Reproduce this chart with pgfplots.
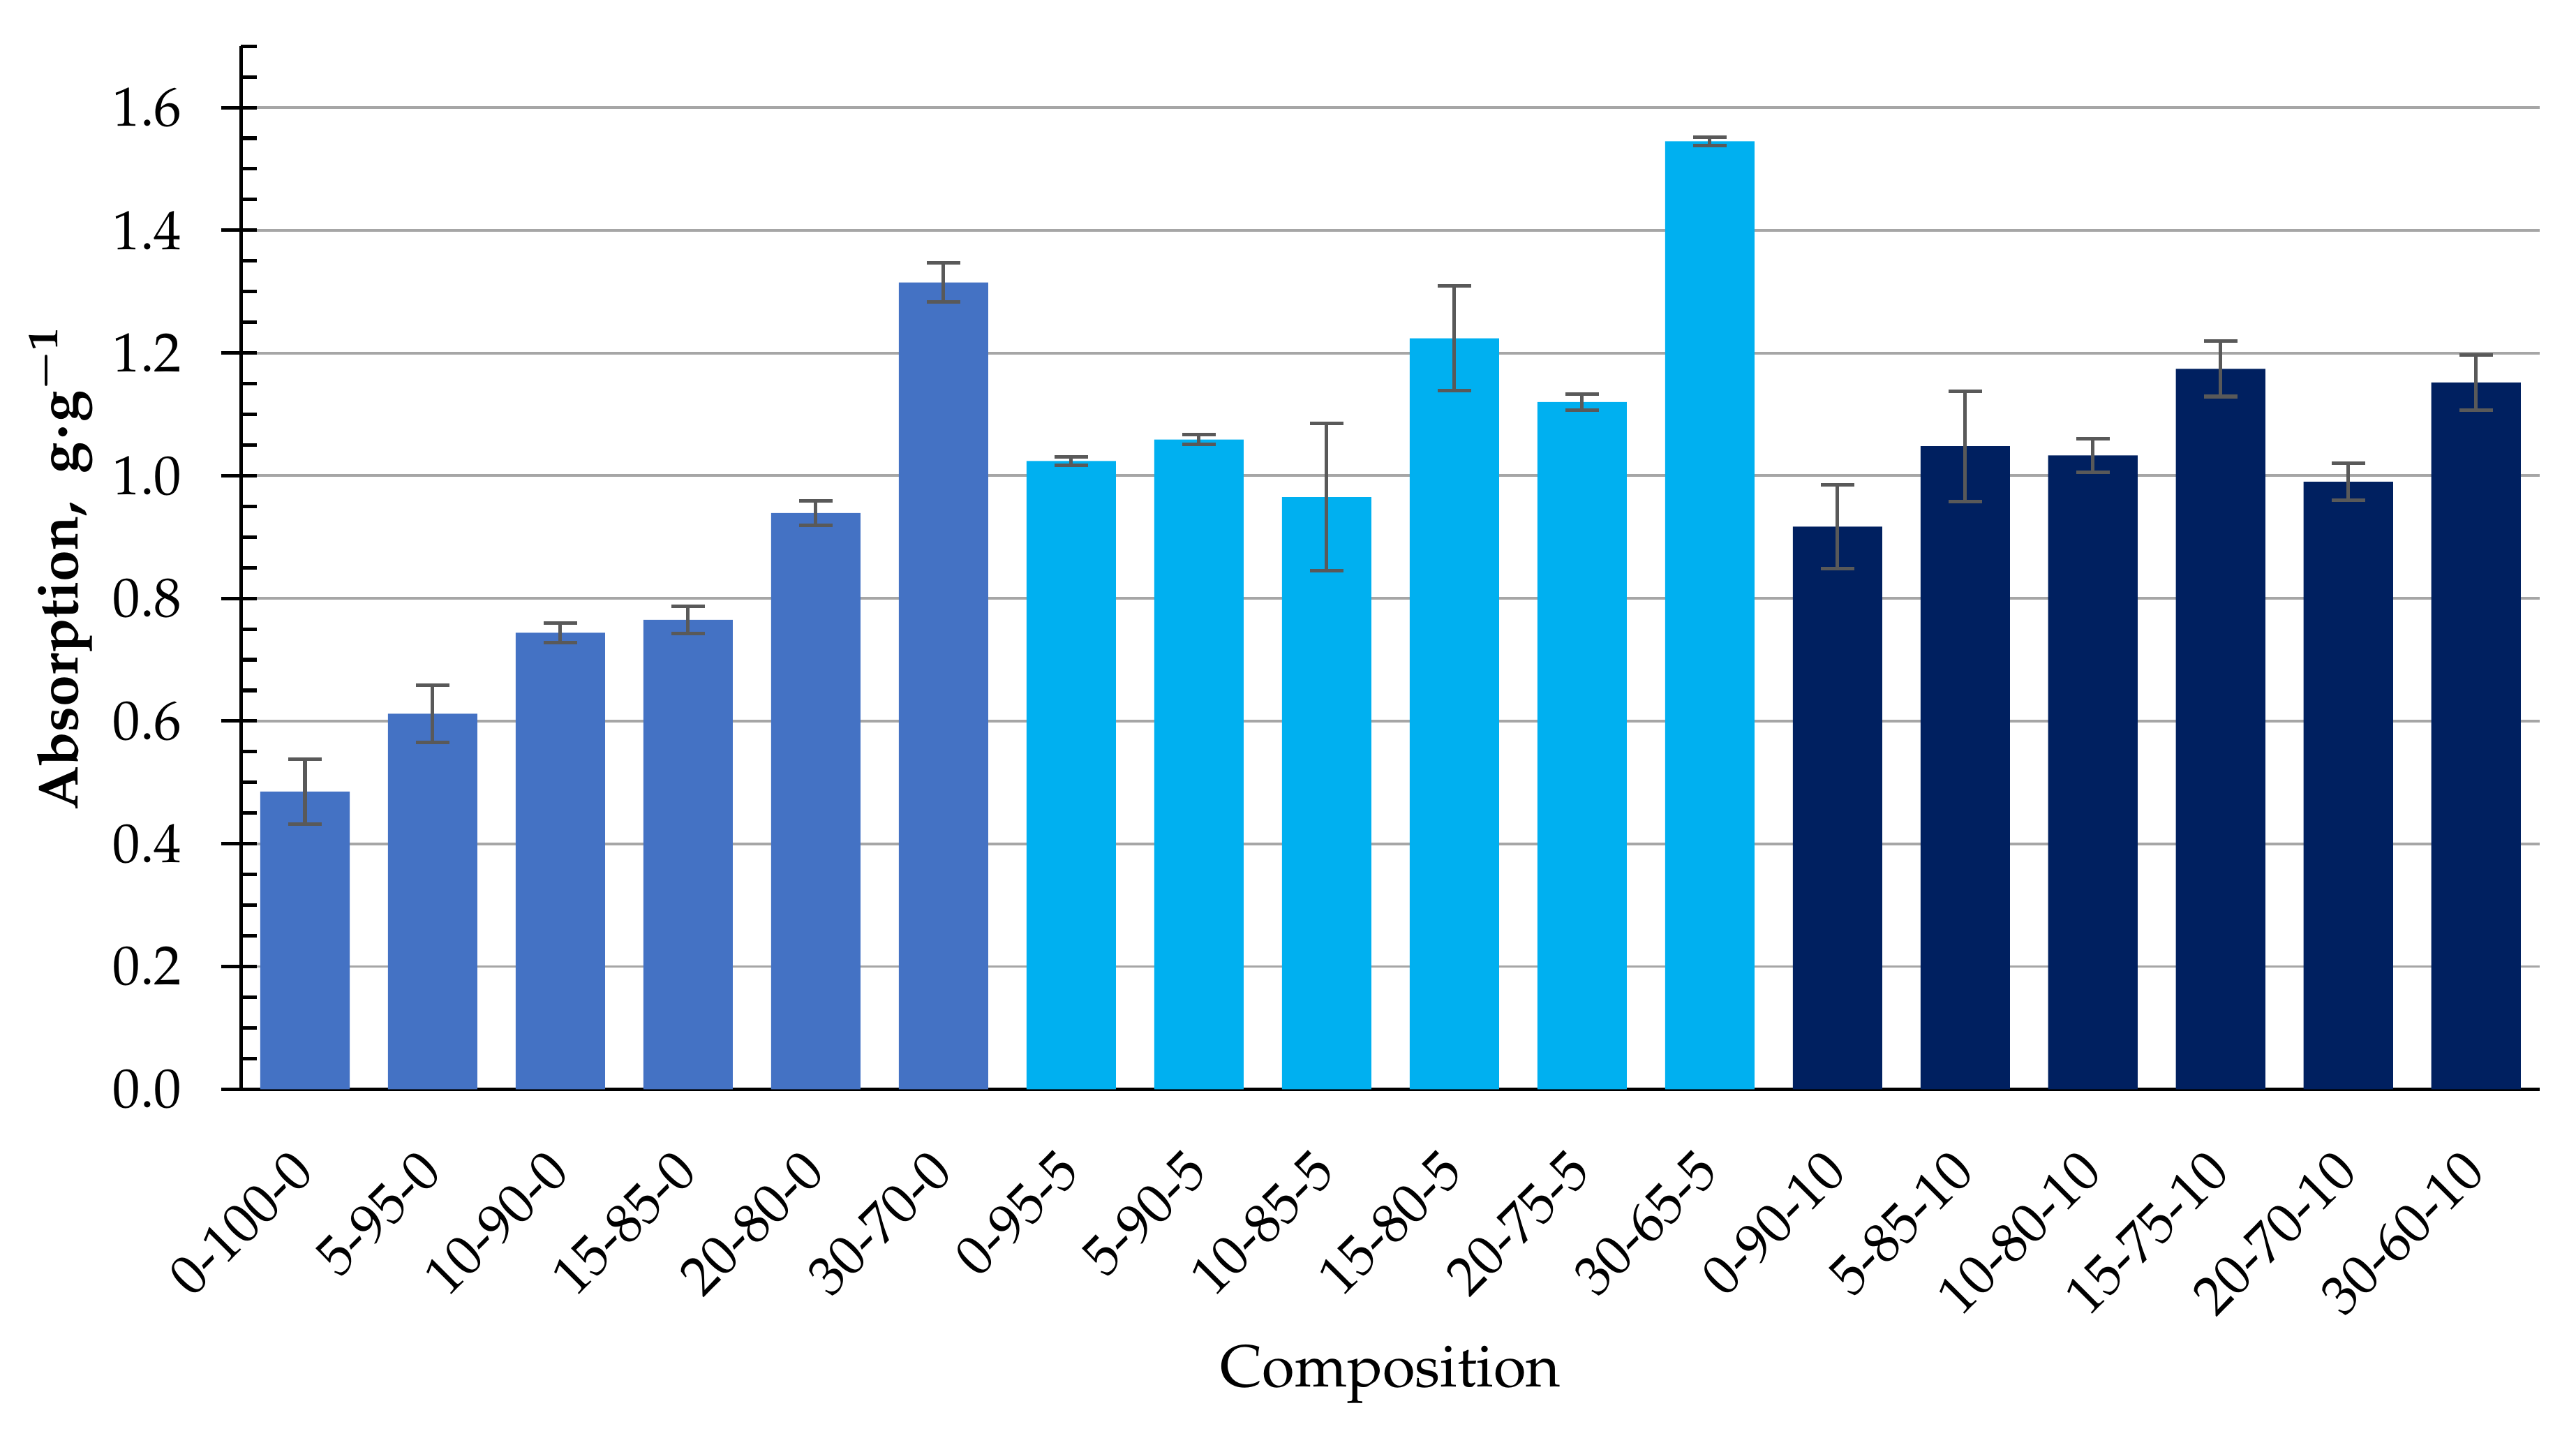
\documentclass[border=0pt]{standalone}
\usepackage[T1]{fontenc}
\usepackage{mathpazo}
\usepackage{pgfplots}
\pgfplotsset{compat=1.18}
\definecolor{grpA}{HTML}{4472C4}
\definecolor{grpB}{HTML}{00B0F0}
\definecolor{grpC}{HTML}{002060}
\definecolor{errgray}{HTML}{595959}
\definecolor{gridgray}{HTML}{A6A6A6}

\begin{document}
\begin{tikzpicture}
\begin{axis}[
  set layers,
  scale only axis,
  width=388pt, height=176pt,
  ybar, bar width=0.7, bar shift=0pt,
  xmin=-0.5, xmax=17.5,
  ymin=0, ymax=1.7,
  axis x line*=bottom, axis y line*=left,
  axis line style={line width=0.6pt, black},
  tick label style={font=\fontsize{9.3}{11}\selectfont},
  xtick={0,...,17},
  xticklabels={0-100-0,5-95-0,10-90-0,15-85-0,20-80-0,30-70-0,
    0-95-5,5-90-5,10-85-5,15-80-5,20-75-5,30-65-5,
    0-90-10,5-85-10,10-80-10,15-75-10,20-70-10,30-60-10},
  x tick style={draw=none},
  xticklabel style={xshift=-2.7pt, yshift=-1.6pt, rotate=45, anchor=north east, inner sep=0pt},
  xticklabel shift=8pt,
  ytick={0,0.2,0.4,0.6,0.8,1.0,1.2,1.4,1.6},
  minor ytick={0.05,0.1,...,1.71},
  tick align=inside,
  major tick length=2.6pt, minor tick length=2.6pt,
  y tick style={line width=0.6pt, black},
  extra y ticks={0,0.2,0.4,0.6,0.8,1.0,1.2,1.4,1.6},
  extra y tick labels={},
  extra y tick style={tick align=outside, major tick length=3.4pt, grid=none},
  yticklabel style={/pgf/number format/fixed, /pgf/number format/fixed zerofill,
    /pgf/number format/precision=1, xshift=-6.5pt},
  ymajorgrids,
  major grid style={color=gridgray, line width=0.45pt},
  xlabel={Composition},
  xlabel style={yshift=-1pt},
  ylabel={\textbf{Absorption,~~g{\boldmath$\cdot$}g{\boldmath$^{-1}$}}},
  ylabel style={font=\fontsize{9.5}{11}\selectfont,
    at={([xshift=-30.5pt]axis description cs:0,0.5)}, anchor=center},
]
\addplot[fill=grpA, draw=none,
  error bars/.cd, y dir=both, y explicit,
  error bar style={draw=errgray, line width=0.6pt},
  error mark options={rotate=90, mark size=2.8pt, line width=0.6pt, draw=errgray}]
  table[x=x, y=y, y error=e] {
x y e
0 0.485 0.053
1 0.612 0.047
2 0.744 0.016
3 0.765 0.022
4 0.939 0.020
5 1.315 0.032
};
\addplot[fill=grpB, draw=none,
  error bars/.cd, y dir=both, y explicit,
  error bar style={draw=errgray, line width=0.6pt},
  error mark options={rotate=90, mark size=2.8pt, line width=0.6pt, draw=errgray}]
  table[x=x, y=y, y error=e] {
x y e
6 1.024 0.007
7 1.059 0.008
8 0.965 0.120
9 1.224 0.085
10 1.120 0.013
11 1.545 0.007
};
\addplot[fill=grpC, draw=none,
  error bars/.cd, y dir=both, y explicit,
  error bar style={draw=errgray, line width=0.6pt},
  error mark options={rotate=90, mark size=2.8pt, line width=0.6pt, draw=errgray}]
  table[x=x, y=y, y error=e] {
x y e
12 0.917 0.068
13 1.048 0.090
14 1.033 0.027
15 1.174 0.045
16 0.990 0.030
17 1.152 0.045
};
\end{axis}
\path ([shift={(-1.5pt,-1pt)}]current bounding box.south west)
  rectangle ([shift={(5.8pt,7.5pt)}]current bounding box.north east);
\end{tikzpicture}
\end{document}
